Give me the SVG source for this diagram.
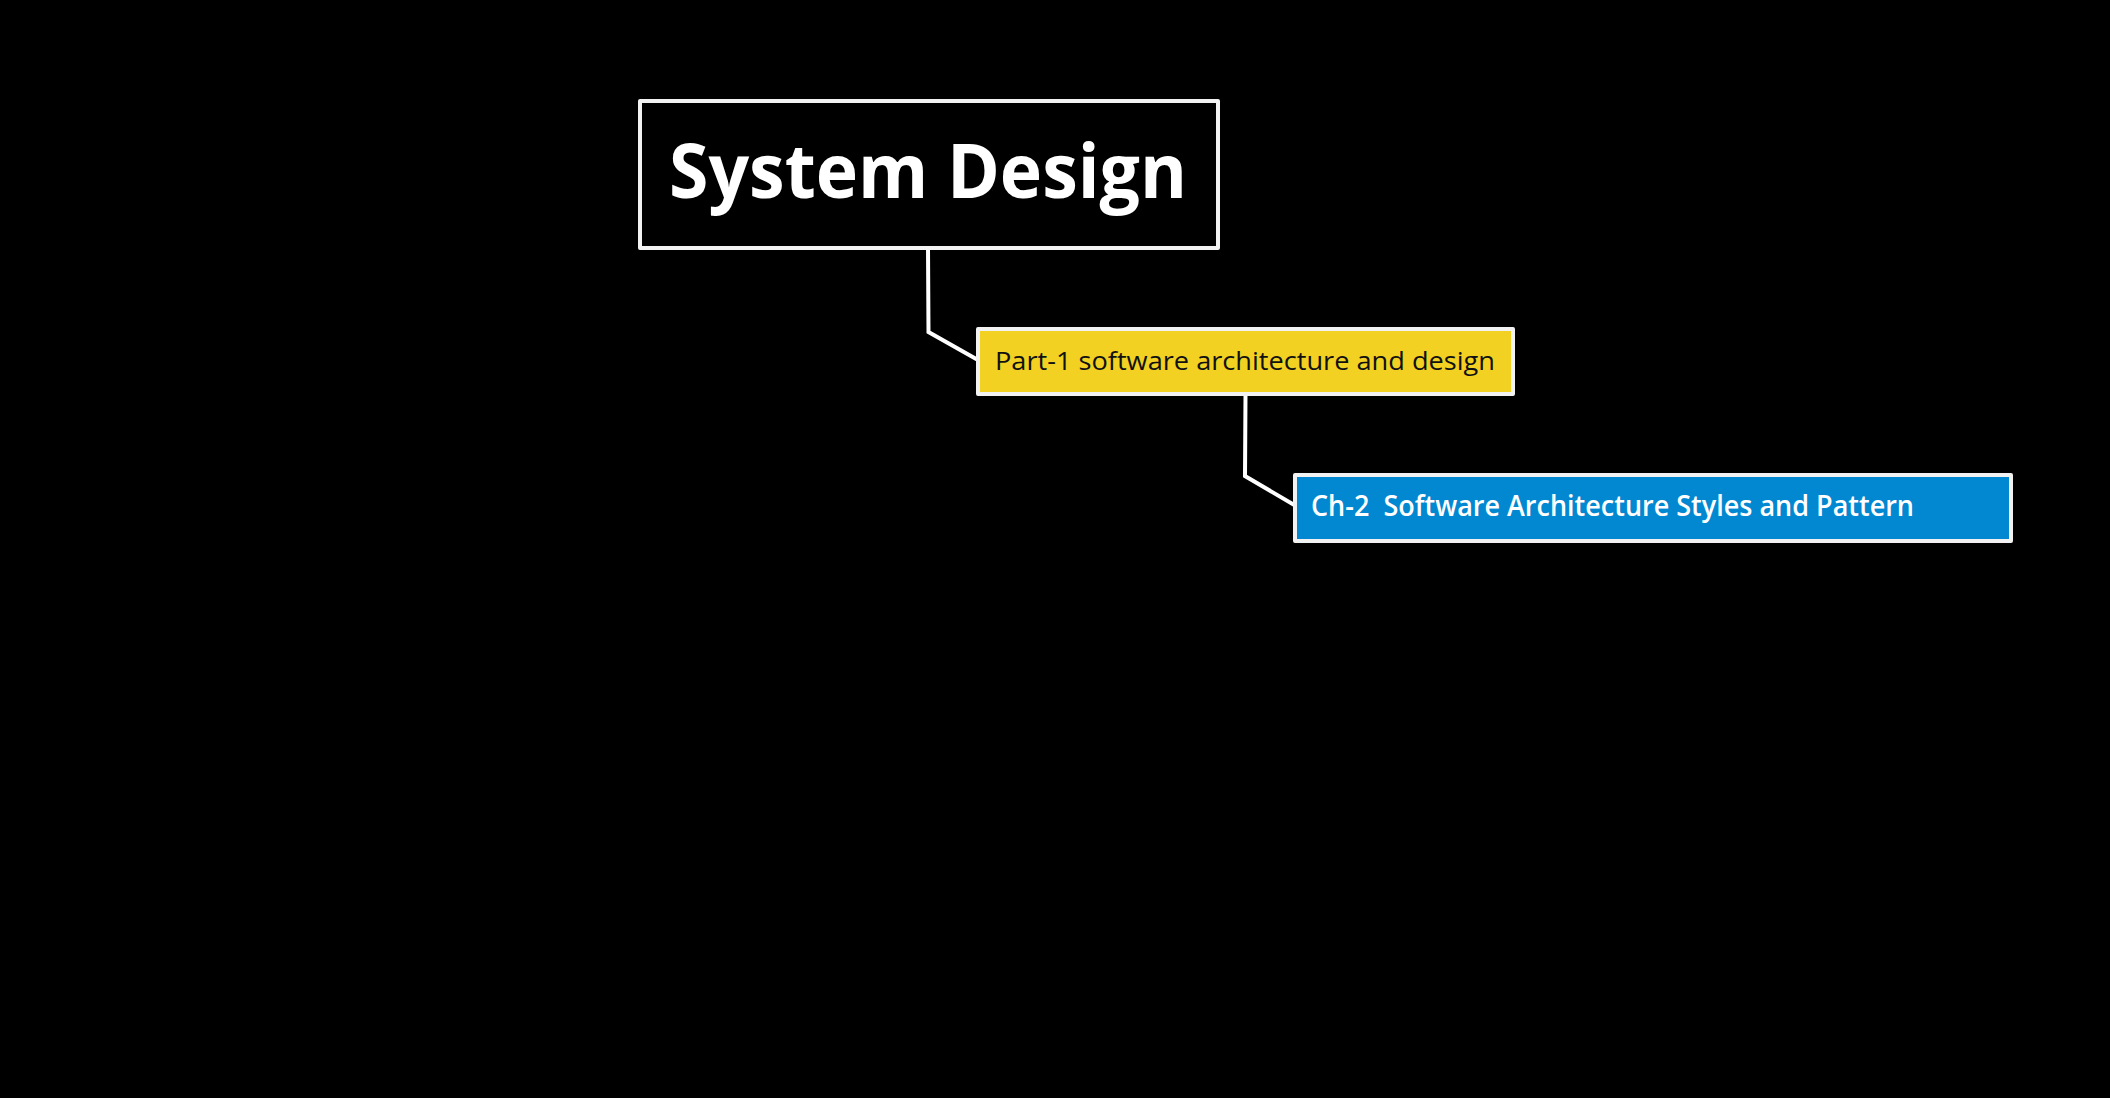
<svg xmlns="http://www.w3.org/2000/svg" width="2110" height="1098" viewBox="0 0 2110 1098">
<style>
.box{stroke:#f2f2f2;stroke-width:4;stroke-linejoin:round}
.conn{fill:none;stroke:#ffffff;stroke-width:4;stroke-linejoin:miter}
.t{font-family:"Comic Sans MS","Open Sans","Noto Sans",sans-serif}
</style>
<rect x="0" y="0" width="2110" height="1098" fill="#000000"/>
<g id="connectors">
<path class="conn" d="M928,248 L928.5,332 L978,360"/>
<path class="conn" d="M1245.5,395 L1245,476 L1296,506"/>
</g>
<g id="node-root">
<rect class="box" x="640" y="101" width="578" height="147" fill="#000000"/>
<text class="t" x="669" y="198" font-size="76" font-weight="700" fill="#ffffff" textLength="518" lengthAdjust="spacingAndGlyphs">System Design</text>
</g>
<g id="node-part1">
<rect class="box" x="978" y="329" width="535" height="65" fill="#F2D122"/>
<text class="t" x="995" y="370" font-size="26" fill="#111111" textLength="500" lengthAdjust="spacingAndGlyphs">Part-1 software architecture and design</text>
</g>
<g id="node-ch2">
<rect class="box" x="1295" y="475" width="716" height="66" fill="#0288D1"/>
<text class="t" x="1311" y="516" font-size="28" font-weight="600" fill="#ffffff" textLength="603" lengthAdjust="spacingAndGlyphs" xml:space="preserve">Ch-2  Software Architecture Styles and Pattern</text>
</g>
</svg>
